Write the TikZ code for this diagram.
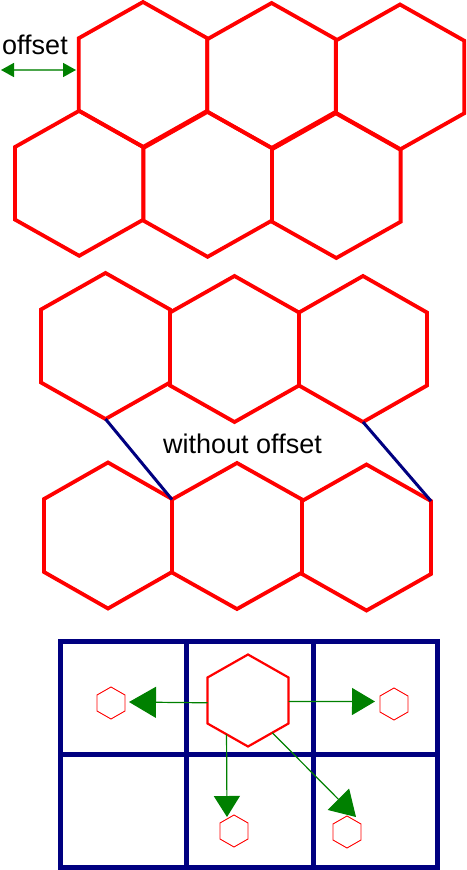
\documentclass[tikz,border=0pt]{standalone}
\usepackage{fontspec}
\setmainfont{Liberation Sans}
\usetikzlibrary{calc,arrows.meta}
\definecolor{hexred}{RGB}{255,0,0}
\definecolor{navyb}{RGB}{0,0,128}
\definecolor{dgreen}{RGB}{0,128,0}
\newcommand\hexag[6]{%
  \coordinate (#2) at (#3,#4);
  \draw[#1] ($(#2)+(0,-#6)$) coordinate (#2-t)
    -- ++(#5,#6/2) coordinate (#2-tr)
    -- ++(0,#6) coordinate (#2-br)
    -- ++(-#5,#6/2) coordinate (#2-b)
    -- ++(-#5,-#6/2) coordinate (#2-bl)
    -- ++(0,-#6) coordinate (#2-tl) -- cycle;}
\tikzset{
  bighex/.style={draw=hexred,line width=3.8pt,line join=miter},
  midhex/.style={draw=hexred,line width=2.2pt},
  smallhex/.style={draw=hexred,line width=0.9pt},
  link/.style={draw=navyb,line width=3pt},
  gridline/.style={draw=navyb,line width=5pt},
  garrow/.style={draw=dgreen,line width=1.2pt},
  headL/.style={-{Triangle[length=27pt,width=31pt,fill=dgreen]}},
  headR/.style={-{Triangle[length=23pt,width=27pt,fill=dgreen]}},
  headD/.style={-{Triangle[length=21pt,width=26pt,fill=dgreen]}},
  headX/.style={-{Triangle[length=25pt,width=30pt,fill=dgreen]}},
  offarrow/.style={draw=dgreen!70!white,line width=1.6pt,
     {Triangle[length=13pt,width=14pt,fill=dgreen,color=dgreen]}-{Triangle[length=13pt,width=14pt,fill=dgreen,color=dgreen]}},
  lab/.style={inner sep=0pt,font=\fontsize{27}{30}\selectfont,anchor=base west}
}
\begin{document}
\begin{tikzpicture}[x=1pt,y=-1pt]
\useasboundingbox (0,0) rectangle (466,870);
% ---- top: with offset
\hexag{bighex}{A}{143}{74.5}{64.3}{72.5}
\hexag{bighex}{B}{271.6}{75.5}{64.3}{72.5}
\hexag{bighex}{C}{400}{77}{64.3}{72.5}
\hexag{bighex}{D}{79.2}{183.3}{64.3}{72.5}
\hexag{bighex}{E}{207.6}{184.3}{64.3}{72.5}
\hexag{bighex}{F}{336.3}{185.5}{64.3}{72.5}
\node[lab] (off) at (2,54) {offset};
\coordinate (o1) at (1,70);
\coordinate (o2) at (76,70);
\draw[offarrow] (o1) -- (o2);
% ---- middle: without offset
\hexag{bighex}{G}{105.5}{346}{64.5}{73}
\hexag{bighex}{H}{234.5}{349}{64.5}{73}
\hexag{bighex}{I}{363}{349}{64}{73}
\hexag{bighex}{J}{108}{535.5}{64}{73}
\hexag{bighex}{K}{237}{536}{65}{73}
\hexag{bighex}{L}{366.5}{537.5}{64.5}{73}
\draw[link] (G-b) -- (K-tl);
\draw[link] (I-b) -- (L-tr);
\node[lab] (wo) at (163,453) {without offset};
% ---- bottom: grid
\draw[gridline] (60,641) rectangle (437,867);
\draw[gridline] (186,641) -- (186,867);
\draw[gridline] (313,641) -- (313,867);
\draw[gridline] (60,754) -- (437,754);
\hexag{midhex}{big}{248}{700.5}{40.5}{46}
\hexag{smallhex}{sL}{111}{703}{14}{16}
\hexag{smallhex}{sR}{394}{704}{14}{16}
\hexag{smallhex}{sD}{234}{831}{14}{16}
\hexag{smallhex}{sX}{347}{832}{14}{16}
\coordinate (eL) at (129,702);
\coordinate (eR) at (375,701.5);
\coordinate (eD) at (227,817);
\coordinate (eX) at (356,817);
\draw[garrow,headL] ($(big-tl)!0.55!(big-bl)$) -- (eL);
\draw[garrow,headR] ($(big-tr)!0.52!(big-br)$) -- (eR);
\draw[garrow,headD] ($(big-bl)!0.47!(big-b)$) -- (eD);
\draw[garrow,headX] ($(big-b)!0.6!(big-br)$) -- (eX);
\end{tikzpicture}
\end{document}
